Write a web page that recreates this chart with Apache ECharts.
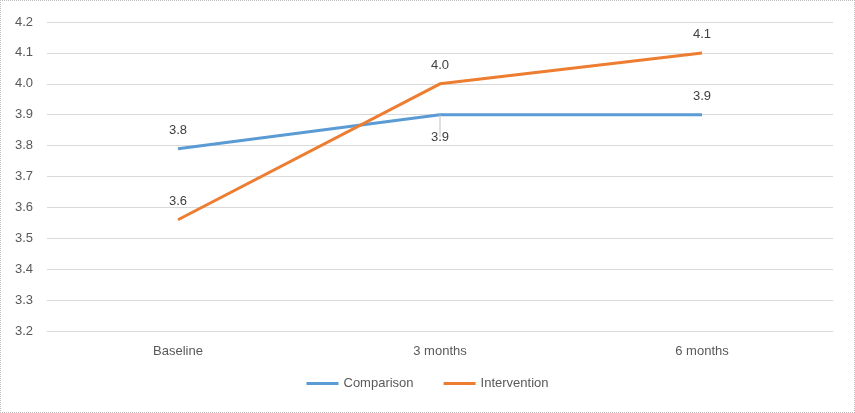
<!DOCTYPE html>
<html lang="en">
<head>
    <meta charset="UTF-8">
    <title>Comparison vs Intervention</title>
    <script type="text/javascript" src="https://cdn.jsdelivr.net/npm/echarts@6/dist/echarts.min.js"></script>
    <style>
        html, body { margin: 0; padding: 0; background: #fff; }
        #main { width: 855px; height: 413px; box-sizing: border-box; border: 1px dotted #bdbdbd; }
    </style>
</head>
<body>
    <div id="main"></div>
    <script type="text/javascript">
        var categories = ['Baseline', '3 months', '6 months'];
        var comparison = [3.79, 3.9, 3.9];
        var intervention = [3.56, 4.0, 4.1];
        var yTicks = { min: 3.2, max: 4.2, step: 0.1 };

        var myChart = echarts.init(document.getElementById('main'));

        var txt = { fontFamily: 'Liberation Sans, Arial, sans-serif', fontSize: 13, color: '#595959' };

        function labelled(values, belowIdx) {
            return values.map(function (v, i) {
                if (i === belowIdx) {
                    return {
                        value: v,
                        label: { position: 'bottom', distance: 16 },
                        labelLine: { show: true, lineStyle: { color: '#bfbfbf', width: 1 } }
                    };
                }
                return v;
            });
        }

        function pointLabel() {
            return {
                show: true,
                position: 'top',
                distance: 12,
                fontFamily: txt.fontFamily,
                fontSize: 13,
                color: '#404040',
                formatter: function (p) { return p.value.toFixed(1); }
            };
        }

        myChart.setOption({
            animation: false,
            grid: { left: 46, right: 21, top: 21, bottom: 81 },
            legend: {
                bottom: 17,
                left: 'center',
                itemWidth: 32,
                itemHeight: 3,
                itemGap: 30,
                icon: 'rect',
                textStyle: txt,
                data: ['Comparison', 'Intervention']
            },
            xAxis: {
                type: 'category',
                data: categories,
                axisLine: { show: false },
                axisTick: { show: false },
                axisLabel: Object.assign({ margin: 14 }, txt)
            },
            yAxis: {
                type: 'value',
                min: yTicks.min,
                max: yTicks.max,
                interval: yTicks.step,
                axisLine: { show: false },
                axisTick: { show: false },
                axisLabel: Object.assign({ margin: 14, formatter: function (v) { return v.toFixed(1); } }, txt),
                splitLine: { lineStyle: { color: '#d9d9d9', width: 1 } }
            },
            series: [{
                name: 'Comparison',
                type: 'line',
                data: labelled(comparison, 1),
                symbol: 'circle',
                symbolSize: 0,
                lineStyle: { color: '#5b9bd5', width: 3 },
                itemStyle: { color: '#5b9bd5' },
                label: pointLabel()
            }, {
                name: 'Intervention',
                type: 'line',
                data: intervention,
                symbol: 'circle',
                symbolSize: 0,
                lineStyle: { color: '#ed7d31', width: 3 },
                itemStyle: { color: '#ed7d31' },
                label: pointLabel()
            }]
        });
    </script>
</body>
</html>
